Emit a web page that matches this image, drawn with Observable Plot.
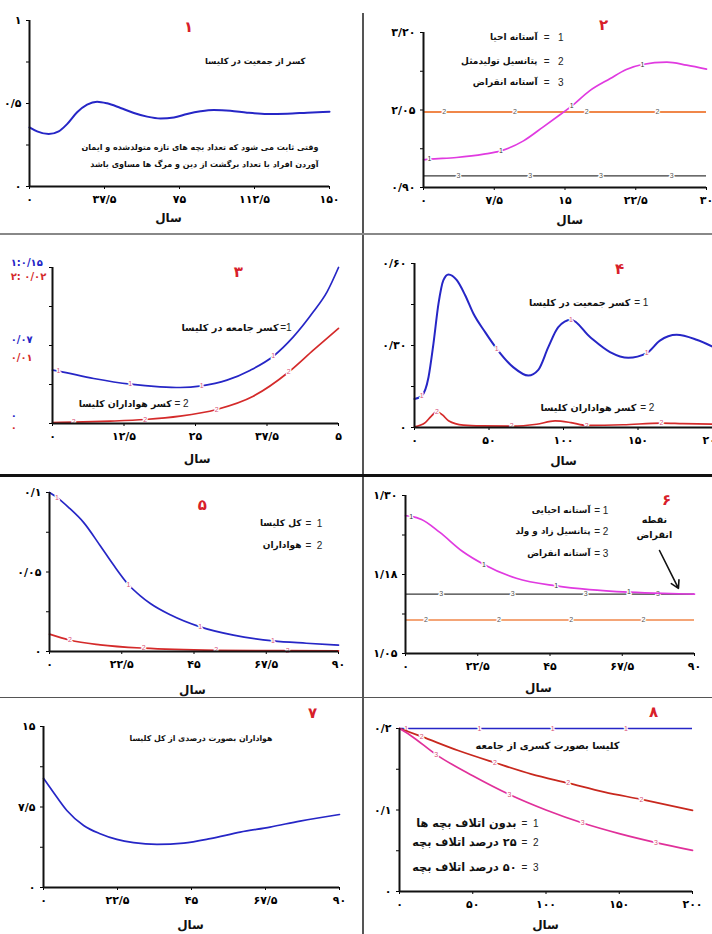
<!DOCTYPE html>
<html><head><meta charset="utf-8">
<script src="https://cdn.jsdelivr.net/npm/d3@7"></script>
<script src="https://cdn.jsdelivr.net/npm/@observablehq/plot@0.6"></script>
<style>
html,body{margin:0;padding:0;background:#fff;}
#root{position:relative;width:712px;height:934px;overflow:hidden;background:#fff;}
.ln{position:absolute;}
</style></head><body><div id="root"></div>
<script>
// ---------- DATA ----------
// Panel 1
const p1_t = [0, 3.8, 9.6, 14.6, 18.8, 23.8, 28.8, 33.8, 38.8, 45.5, 52.2, 58.8, 65.5, 72.2, 78.8, 85.5, 92.1, 100.4, 108.8, 118.8, 128.8, 138.8, 150];
const p1_v = [0.356, 0.332, 0.316, 0.332, 0.376, 0.447, 0.493, 0.511, 0.501, 0.473, 0.443, 0.421, 0.410, 0.416, 0.437, 0.453, 0.461, 0.457, 0.445, 0.437, 0.439, 0.445, 0.451];
// Panel 2
const p2_t1 = [0, 0.64, 3.5, 6.4, 8.2, 10.6, 12.7, 14.5, 15.7, 17.6, 19.8, 21.5, 23.2, 25.8, 27.9, 30];
const p2_v1 = [1.312, 1.320, 1.345, 1.395, 1.444, 1.592, 1.800, 1.983, 2.107, 2.334, 2.517, 2.651, 2.725, 2.760, 2.715, 2.656];
const p2_m1 = [0.64, 8.2, 15.7, 23.2];
const p2_v2 = 2.02, p2_m2 = [2.2, 9.7, 17.3, 24.8];
const p2_v3 = 1.073, p2_m3 = [3.7, 11.3, 18.8, 26.3];
// Panel 3 (series 1 on 0–0.15 scale, series 2 on 0–0.02 scale)
const p3_t1 = [0, 1.05, 7.2, 13.6, 18.8, 22.3, 26.1, 30.5, 34.6, 38.6, 42.1, 45.6, 48, 50];
const p3_v1 = [0.0513, 0.0503, 0.0433, 0.0378, 0.0353, 0.0346, 0.0362, 0.0417, 0.0513, 0.0647, 0.0833, 0.1074, 0.1266, 0.15];
const p3_m1 = [1.05, 13.6, 26.1, 38.6];
const p3_t2 = [0, 3.7, 10.1, 16.2, 22.3, 28.7, 35.1, 41.3, 45.6, 50];
const p3_v2 = [0.00013, 0.00017, 0.0003, 0.00051, 0.00094, 0.0018, 0.0035, 0.0066, 0.0094, 0.0122];
const p3_m2 = [3.7, 16.2, 28.7, 41.3];
// Panel 4
const p4_t1 = [0, 4.9, 9.4, 12.7, 16.1, 19.4, 22.8, 28.4, 34, 39.6, 47.4, 55.2, 66.4, 76.4, 83.1, 89.8, 96.5, 105, 117.8, 131.2, 143.5, 155.8, 164.7, 175.9, 189.3, 200];
const p4_v1 = [0.104, 0.116, 0.184, 0.306, 0.453, 0.539, 0.560, 0.539, 0.484, 0.416, 0.349, 0.288, 0.220, 0.190, 0.211, 0.294, 0.367, 0.394, 0.331, 0.276, 0.255, 0.272, 0.318, 0.339, 0.321, 0.296];
const p4_m1 = [4.9, 55.2, 105, 155.8];
const p4_t2 = [0, 7.2, 11, 15, 19, 22.8, 32.8, 45, 65.3, 82, 94.3, 105, 115.5, 140, 165.8, 180, 200];
const p4_v2 = [0.0025, 0.018, 0.04, 0.058, 0.045, 0.025, 0.009, 0.006, 0.005, 0.012, 0.024, 0.018, 0.008, 0.010, 0.016, 0.014, 0.012];
const p4_m2 = [15, 65.3, 115.5, 165.8];
// Panel 5
const p5_t1 = [0, 2.3, 6, 10.6, 15.8, 19.9, 24.6, 28.2, 31.4, 37.6, 46.9, 57.3, 69.6, 80, 90];
const p5_v1 = [0.1, 0.0969, 0.0905, 0.0812, 0.0665, 0.0545, 0.0420, 0.0352, 0.0302, 0.0231, 0.0155, 0.0103, 0.0067, 0.0052, 0.0040];
const p5_m1 = [2.3, 24.6, 46.9, 69.6];
const p5_t2 = [0, 6.4, 15.8, 29.3, 51.9, 74.2, 90];
const p5_v2 = [0.0109, 0.0071, 0.0042, 0.0021, 0.0008, 0.0005, 0.0004];
const p5_m2 = [6.4, 29.3, 51.9, 74.2];
// Panel 6
const p6_t1 = [0, 1.8, 5, 10.6, 17.9, 24.4, 34.5, 46.9, 57.3, 69.6, 80, 90];
const p6_v1 = [1.268, 1.267, 1.262, 1.242, 1.211, 1.191, 1.169, 1.157, 1.151, 1.147, 1.145, 1.144];
const p6_m1 = [1.8, 24.4, 46.9, 69.6];
const p6_v2 = 1.103, p6_m2 = [6.4, 29.1, 51.6, 74.1];
const p6_v3 = 1.144, p6_m3 = [11.1, 33.4, 56.1, 78.6];
const p6_arrow = [{x1: 79.1, y1: 1.213, x2: 85.0, y2: 1.153}];
// Panel 7
const p7_t = [0, 3, 7.1, 12.2, 17.2, 22.3, 27.4, 34.5, 42.6, 50.7, 59.8, 68.9, 78, 90];
const p7_v = [10.17, 8.88, 7.18, 5.78, 5.01, 4.48, 4.18, 4.02, 4.14, 4.55, 5.16, 5.63, 6.19, 6.80];
// Panel 8
const p8_v1 = 0.2, p8_m1 = [4.5, 54.5, 104.5, 154.5];
const p8_t2 = [0, 15.2, 40, 65.2, 90, 115.2, 140, 165.2, 200];
const p8_v2 = [0.2, 0.190, 0.173, 0.158, 0.144, 0.133, 0.122, 0.113, 0.0996];
const p8_m2 = [15.2, 65.2, 115.2, 165.2];
const p8_t3 = [0, 7.3, 25, 50, 75, 100, 125, 150, 175, 200];
const p8_v3 = [0.2, 0.1918, 0.168, 0.142, 0.119, 0.100, 0.084, 0.071, 0.060, 0.0504];
const p8_m3 = [25, 75, 125, 175];

// Tick values & labels
const ticks = {
  p1x: [0, 37.5, 75, 112.5, 150], p1xl: ["۰", "۳۷/۵", "۷۵", "۱۱۲/۵", "۱۵۰"],
  p1y: [0, 0.25, 0.5, 0.75, 1], p1yl: ["۰", "", "۰/۵", "", "۱"],
  p2x: [0, 7.5, 15, 22.5, 30], p2xl: ["۰", "۷/۵", "۱۵", "۲۲/۵", "۳۰"],
  p2y: [0.9, 1.475, 2.05, 2.625, 3.2], p2yl: ["۰/۹۰", "", "۲/۰۵", "", "۳/۲۰"],
  p3x: [0, 12.5, 25, 37.5, 50], p3xl: ["۰", "۱۲/۵", "۲۵", "۳۷/۵", "۵"],
  p3y: [0, 0.0375, 0.075, 0.1125, 0.15],
  p4x: [0, 50, 100, 150, 200], p4xl: ["۰", "۵۰", "۱۰۰", "۱۵۰", "۲۰۰"],
  p4y: [0, 0.15, 0.3, 0.45, 0.6], p4yl: ["۰", "", "۰/۳۰", "", "۰/۶۰"],
  p5x: [0, 22.5, 45, 67.5, 90], p5xl: ["۰", "۲۲/۵", "۴۵", "۶۷/۵", "۹۰"],
  p5y: [0, 0.025, 0.05, 0.075, 0.1], p5yl: ["۰", "", "۰/۰۵", "", "۰/۱"],
  p6y: [1.05, 1.1125, 1.175, 1.2375, 1.3], p6yl: ["۱/۰۵", "", "۱/۱۸", "", "۱/۳۰"],
  p7y: [0, 3.75, 7.5, 11.25, 15], p7yl: ["۰", "", "۷/۵", "", "۱۵"],
  p8y: [0, 0.05, 0.1, 0.15, 0.2], p8yl: ["۰", "", "۰/۱", "", "۰/۲"]
};
// Panel 3 dual y labels
const p3_ylab_blue = [{y: 0.15, t: "۱:۰/۱۵", dy: -5}, {y: 0.075, t: "۰/۰۷", dy: -6}, {y: 0, t: "۰", dy: -8}];
const p3_ylab_red = [{y: 0.15, t: "۲: ۰/۰۲", dy: 9}, {y: 0.075, t: "۰/۰۱", dy: 12}, {y: 0, t: "۰", dy: 4}];

// ---------- STYLE ----------
const W = 712, H = 934;
const FA = "'DejaVu Sans', sans-serif";
const LAT = "'Liberation Sans', Arial, sans-serif";
const BLUE = "#2626c6", RED = "#d42a2a", MAG = "#e03ae0", ORG = "#f0874a", BLK = "#3a3a3a";
const RED8 = "#c8281e", MAG8 = "#e0309a", TITLE = "#d8202a", MK = "#d8507a", MKG = "#555";
const RLM = "\u200F", LRM = "\u200E";
const fa = s => RLM + s + LRM;
const CURVE = "monotone-x";

function pts(t, v, k = 1) { return t.map((x, i) => ({x, y: v[i] * k})); }
function series(t, v, m, color, lab, mcol = MK, k = 1, sw = 1.7) {
  const d = pts(t, v, k);
  return [
    Plot.line(d, {x: "x", y: "y", stroke: color, strokeWidth: sw, curve: CURVE}),
    Plot.text(d.filter(p => m.includes(p.x)), {x: "x", y: "y", text: () => lab, fill: mcol, stroke: "white", strokeWidth: 2.5, paintOrder: "stroke", fontSize: 7, fontFamily: LAT})
  ];
}
function hline(v, m, color, lab, mcol = MKG, sw = 1.4) {
  return [
    Plot.ruleY([v], {stroke: color, strokeWidth: sw}),
    Plot.text(m, {x: d => d, y: () => v, text: () => lab, fill: mcol, stroke: "white", strokeWidth: 2.5, paintOrder: "stroke", fontSize: 7, fontFamily: LAT})
  ];
}
function title(x, y, s) {
  return Plot.text([s], {x: () => x, y: () => y, text: d => d, fill: TITLE, fontSize: 15, fontWeight: "bold", fontFamily: FA});
}
function note(x, y, s, size, opts = {}) {
  return Plot.text([fa(s)], {x: () => x, y: () => y, text: d => d, textAnchor: "end", fontSize: size, fontWeight: "bold", fontFamily: FA, fill: "#111", ...opts});
}
function xlab(x, y) {
  return Plot.text(["سال"], {x: () => x, y: () => y, text: d => d, fontSize: 12, fontWeight: "bold", fontFamily: FA, fill: "#111"});
}
function legend(xr, ys, nums, labels, gap, size) {
  const rows = ys.map((y, i) => ({y, n: nums[i], l: fa(labels[i])}));
  return [
    Plot.text(rows, {x: () => xr, y: "y", text: "n", textAnchor: "end", fontSize: 10, fontFamily: LAT, fill: "#222"}),
    Plot.text(rows, {x: () => xr, y: "y", text: "l", textAnchor: "end", dx: -gap, fontSize: size, fontWeight: "bold", fontFamily: FA, fill: "#111"})
  ];
}
function sideLabels(rows, color) {
  return rows.map(r => Plot.text([r], {x: () => -7.3, y: "y", dy: r.dy, text: "t", textAnchor: "start", fill: color, fontSize: 10, fontWeight: "bold", fontFamily: FA}));
}

function panel({f, xd, yd, xt, xl, yt, yl, marks}) {
  const xm = new Map(xt.map((d, i) => [d, xl[i]]));
  const ym = new Map(yt.map((d, i) => [d, yl ? yl[i] : ""]));
  return Plot.plot({
    width: W, height: H,
    marginLeft: f[0], marginRight: W - f[1], marginTop: f[2], marginBottom: H - f[3],
    x: {domain: xd, label: null},
    y: {domain: yd, label: null},
    style: {background: "transparent", position: "absolute", left: "0px", top: "0px", fontFamily: FA, overflow: "visible"},
    marks: [
      Plot.axisX({ticks: xt, tickFormat: d => xm.get(d), tickSize: 3, tickPadding: 6, fontSize: 11, fontWeight: "bold", fontFamily: FA, label: null}),
      Plot.axisY({ticks: yt, tickFormat: d => ym.get(d) ?? "", tickSize: 3, tickPadding: 5, fontSize: 11, fontWeight: "bold", fontFamily: FA, label: null}),
      ...marks.flat(2),
      Plot.ruleX([xd[0]], {stroke: "#111", strokeWidth: 2}),
      Plot.ruleY([yd[0]], {stroke: "#111", strokeWidth: 2})
    ]
  });
}

const root = document.getElementById("root");
const charts = [
  panel({f: [29, 329, 20, 186], xd: [0, 150], yd: [0, 1], xt: ticks.p1x, xl: ticks.p1xl, yt: ticks.p1y, yl: ticks.p1yl,
    marks: [
      series(p1_t, p1_v, [], BLUE, "", MK, 1, 2),
      title(79.5, 0.958, "۱"),
      note(138, 0.753, "کسر از جمعیت در کلیسا", 8.5),
      note(144.5, 0.235, "وقتی ثابت می شود که تعداد بچه های تازه متولدشده و ایمان", 8),
      note(144.5, 0.133, "آوردن افراد با تعداد برگشت از دین و مرگ ها مساوی باشد", 8),
      xlab(69.5, -0.193)
    ]}),
  panel({f: [423, 706, 32, 187], xd: [0, 30], yd: [0.9, 3.2], xt: ticks.p2x, xl: ticks.p2xl, yt: ticks.p2y, yl: ticks.p2yl,
    marks: [
      hline(p2_v3, p2_m3, BLK, "3", MKG, 1.2),
      hline(p2_v2, p2_m2, ORG, "2", MKG, 2),
      series(p2_t1, p2_v1, p2_m1, MAG, "1", "#333"),
      title(19.1, 3.304, "۲"),
      legend(14.84, [3.126, 2.770, 2.458], ["=   1", "=   2", "=   3"], ["آستانه احیا", "پتانسیل تولیدمثل", "آستانه انقراض"], 26, 9),
      xlab(15.5, 0.41)
    ]}),
  panel({f: [52, 338, 267, 423], xd: [0, 50], yd: [0, 0.15], xt: ticks.p3x, xl: ticks.p3xl, yt: ticks.p3y, yl: null,
    marks: [
      series(p3_t1, p3_v1, p3_m1, BLUE, "1"),
      series(p3_t2, p3_v2, p3_m2, RED, "2", MK, 0.15 / 0.02),
      sideLabels(p3_ylab_blue, BLUE),
      sideLabels(p3_ylab_red, RED),
      title(32.5, 0.1452, "۳"),
      legend(41.8, [0.0923], ["=1"], ["کسر جامعه در کلیسا"], 13, 9.7),
      legend(23.8, [0.0192], ["= 2"], ["کسر هواداران کلیسا"], 17, 9.3),
      xlab(25.3, -0.0346)
    ]}),
  panel({f: [414, 712, 263, 427], xd: [0, 200], yd: [0, 0.6], xt: ticks.p4x, xl: ticks.p4xl, yt: ticks.p4y, yl: ticks.p4yl,
    marks: [
      series(p4_t1, p4_v1, p4_m1, BLUE, "1", MK, 1, 2),
      series(p4_t2, p4_v2, p4_m2, RED, "2"),
      title(137.6, 0.578, "۴"),
      legend(157, [0.457], ["= 1"], ["کسر جمعیت در کلیسا"], 18, 9.6),
      legend(161, [0.073], ["= 2"], ["کسر هواداران کلیسا"], 18, 9.6),
      xlab(100, -0.124)
    ]}),
  panel({f: [49, 338, 492, 651], xd: [0, 90], yd: [0, 0.1], xt: ticks.p5x, xl: ticks.p5xl, yt: ticks.p5y, yl: ticks.p5yl,
    marks: [
      series(p5_t1, p5_v1, p5_m1, BLUE, "1"),
      series(p5_t2, p5_v2, p5_m2, RED, "2"),
      title(47.6, 0.0918, "۵"),
      legend(85, [0.0805, 0.0667], ["=  1", "=  2"], ["کل کلیسا", "هواداران"], 21, 9),
      xlab(44.5, -0.0245)
    ]}),
  panel({f: [405, 694, 495, 653], xd: [0, 90], yd: [1.05, 1.3], xt: ticks.p5x, xl: ticks.p5xl, yt: ticks.p6y, yl: ticks.p6yl,
    marks: [
      hline(p6_v2, p6_m2, ORG, "2", MKG, 1.5),
      hline(p6_v3, p6_m3, BLK, "3", MKG, 1.2),
      series(p6_t1, p6_v1, p6_m1, MAG, "1", "#333"),
      title(81.3, 1.292, "۶"),
      note(77.5, 1.262, "نقطه", 9.5, {textAnchor: "middle"}),
      note(77.5, 1.238, "انقراض", 9.5, {textAnchor: "middle"}),
      Plot.arrow(p6_arrow, {x1: "x1", y1: "y1", x2: "x2", y2: "y2", stroke: "#111", strokeWidth: 1.6, headLength: 8}),
      legend(63.2, [1.276, 1.243, 1.208], ["= 1", "= 2", "= 3"], ["آستانه احیایی", "پتانسیل زاد و ولد", "آستانه انقراض"], 18, 8.8),
      xlab(41.4, 0.9946)
    ]}),
  panel({f: [43, 339, 726, 887], xd: [0, 90], yd: [0, 15], xt: ticks.p5x, xl: ticks.p5xl, yt: ticks.p7y, yl: ticks.p7yl,
    marks: [
      series(p7_t, p7_v, [], BLUE, ""),
      title(81.8, 16.2, "۷"),
      note(69.6, 13.88, "هواداران بصورت درصدی از کل کلیسا", 7.8),
      xlab(44.7, -3.54)
    ]}),
  panel({f: [399, 692, 728, 891], xd: [0, 200], yd: [0, 0.2], xt: ticks.p4x, xl: ticks.p4xl, yt: ticks.p8y, yl: ticks.p8yl,
    marks: [
      hline(p8_v1, p8_m1, BLUE, "1", MK, 1.5),
      series(p8_t2, p8_v2, p8_m2, RED8, "2"),
      series(p8_t3, p8_v3, p8_m3, MAG8, "3"),
      title(173.4, 0.2196, "۸"),
      note(150.2, 0.179, "کلیسا بصورت کسری از جامعه", 9.8),
      legend(94.9, [0.0834, 0.0601, 0.0294], ["=  1", "=  2", "=  3"], ["بدون اتلاف بچه ها", "۲۵ درصد اتلاف بچه", "۵۰ درصد اتلاف بچه"], 22, 11.3),
      xlab(99.7, -0.0417)
    ]})
];
charts.forEach(c => root.appendChild(c));

// frame dividers
const lines = [
  {l: 362, t: 13, w: 1.5, h: 921, c: "#555"},
  {l: 0, t: 233, w: 712, h: 1.5, c: "#888"},
  {l: 0, t: 474, w: 712, h: 3, c: "#111"},
  {l: 0, t: 696.5, w: 712, h: 1.5, c: "#555"}
];
lines.forEach(s => {
  const d = document.createElement("div");
  d.className = "ln";
  Object.assign(d.style, {left: s.l + "px", top: s.t + "px", width: s.w + "px", height: s.h + "px", background: s.c});
  root.appendChild(d);
});
</script></body></html>
